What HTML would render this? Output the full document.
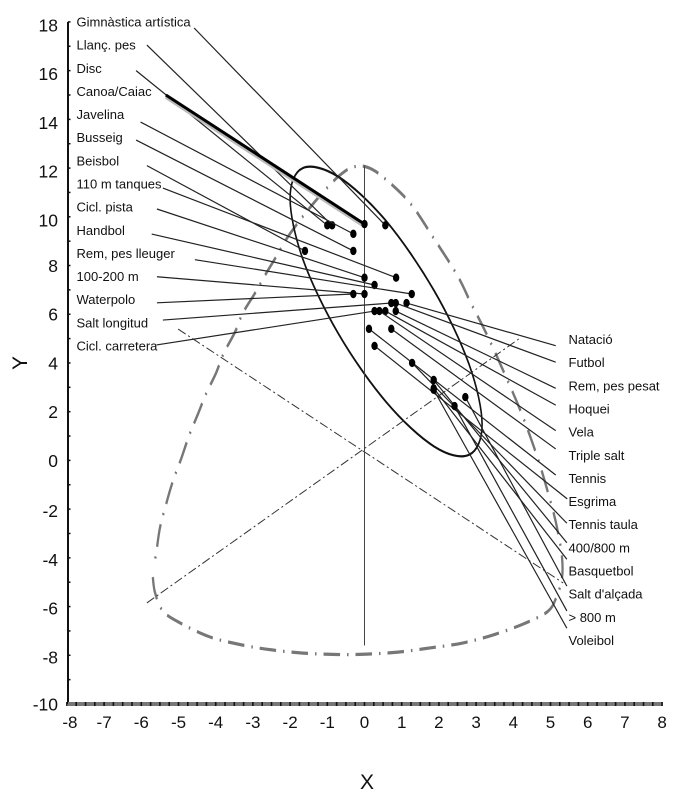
<!DOCTYPE html>
<html lang="ca">
<head>
<meta charset="utf-8">
<title>Biplot</title>
<style>
html,body{margin:0;padding:0;background:#fff;}
svg{display:block;font-family:"Liberation Sans",sans-serif;}
</style>
</head>
<body>
<svg id="chart" xmlns="http://www.w3.org/2000/svg" width="700" height="806" viewBox="0 0 700 806">
<text x="367" y="789" font-size="21" text-anchor="middle" fill="#111">X</text>
<text x="0" y="0" font-size="21" text-anchor="middle" fill="#111" transform="translate(27,363) rotate(-90)">Y</text>
</svg>
<script>
var xTickLabels = [-8,-7,-6,-5,-4,-3,-2,-1,0,1,2,3,4,5,6,7,8];
var yTickLabels = [18,16,14,12,10,8,6,4,2,0,-2,-4,-6,-8,-10];

var leftSports = ["Gimnàstica artística","Llanç. pes","Disc","Canoa/Caiac","Javelina","Busseig","Beisbol","110 m tanques","Cicl. pista","Handbol","Rem, pes lleuger","100-200 m","Waterpolo","Salt longitud","Cicl. carretera"];
var leftX = [0.56,-0.87,-1.0,0,-0.3,-0.3,-1.6,0.85,0,0.27,1.27,0,-0.3,0.72,0.27];
var leftY = [9.65,9.65,9.65,9.7,9.3,8.6,8.6,7.5,7.5,7.2,6.83,6.83,6.83,6.46,6.13];
var leftLeaderX = [-4.58,-5.85,-6.14,-5.34,-6.02,-6.14,-5.85,-5.42,-5.58,-5.72,-4.56,-5.58,-5.58,-5.42,-5.59];
var leftLeaderY = [17.75,17.05,16.0,15.0,13.89,13.15,12.1,11.18,10.32,9.29,8.24,7.54,6.47,5.76,4.74];

var rightSports = ["Natació","Futbol","Rem, pes pesat","Hoquei","Vela","Triple salt","Tennis","Esgrima","Tennis taula","400/800 m","Basquetbol","Salt d'alçada","> 800 m","Voleibol"];
var rightX = [1.13,0.84,0.84,0.56,0.4,0.72,0.12,0.27,1.28,1.86,1.86,2.71,2.42,1.86];
var rightY = [6.46,6.46,6.13,6.13,6.13,5.4,5.4,4.7,4.0,3.3,2.96,2.6,2.23,2.9];
var rightLeaderX = [5.14,5.14,5.14,5.14,5.14,5.14,5.14,5.45,5.44,5.44,5.44,5.44,5.44,5.44];
var rightLeaderY = [4.71,4.03,2.96,2.27,1.22,0.47,-0.6,-1.58,-2.58,-3.38,-4.06,-5.16,-6.18,-6.89];

var innerEllipseX = [3.16,2.81,1.87,0.58,-0.71,-1.66,-2.0,-1.66,-0.71,0.58,1.87,2.81];
var innerEllipseY = [1.47,0.23,0.57,2.40,5.22,8.28,10.76,12.0,11.65,9.83,6.97,3.95];

var outerBoundX = [-5.69,-5.63,-5.42,-4.96,-4.15,-3.29,-2.49,-1.65,-0.74,0.07,0.9,1.76,2.62,3.45,4.26,4.91,5.15,5.31,5.31,5.2,5.04,4.69,4.26,3.78,3.27,2.86,2.49,1.84,1.22,0.5,0.07,-0.31,-0.66,-1.06,-1.41,-1.79,-2.08,-2.38,-2.67,-2.94,-3.27,-3.48,-3.78,-3.99,-4.26,-4.5,-4.72,-4.93,-5.15,-5.34,-5.5,-5.6,-5.66];
var outerBoundY = [-4.79,-5.44,-6.18,-6.67,-7.25,-7.58,-7.78,-7.91,-7.97,-7.95,-7.87,-7.70,-7.50,-7.17,-6.72,-6.22,-5.65,-4.83,-3.97,-2.94,-1.91,-0.07,1.78,3.51,5.23,6.46,7.61,9.17,10.57,11.63,12.04,12.04,11.71,11.1,10.48,9.75,9.13,8.35,7.61,6.87,6.05,5.27,4.41,3.59,2.73,1.82,1.0,0.06,-0.85,-1.83,-2.78,-3.8,-4.29];

var axisOneX = [-5.01,5.34];
var axisOneY = [5.39,-5.03];
var axisTwoX = [-5.85,4.18];
var axisTwoY = [-5.85,5.02];
var zeroLineY = [12.1,-7.6];

var NS = "http://www.w3.org/2000/svg";
var svg = document.getElementById("chart");
var stretch = 1.4;
function sx(v){ return 364.5 + v * 37.2; }
function sy(v){ return 460.4 - v * 24.36; }
function mk(tag, attrs, parent){
  var e = document.createElementNS(NS, tag);
  for (var k in attrs) e.setAttribute(k, attrs[k]);
  (parent || svg).appendChild(e);
  return e;
}
function smoothPath(xs, ys, closed){
  var pts = xs.map(function(v,i){ return [sx(v), sy(ys[i]) / stretch]; });
  var n = pts.length;
  function at(i){ return closed ? pts[(i+n)%n] : pts[Math.min(Math.max(i,0),n-1)]; }
  var d = "M" + pts[0][0].toFixed(1) + " " + pts[0][1].toFixed(1);
  var last = closed ? n : n - 1;
  for (var i = 0; i < last; i++){
    var p0 = at(i-1), p1 = at(i), p2 = at(i+1), p3 = at(i+2);
    d += "C" + (p1[0]+(p2[0]-p0[0])/6).toFixed(1) + " " + (p1[1]+(p2[1]-p0[1])/6).toFixed(1) + " " +
         (p2[0]-(p3[0]-p1[0])/6).toFixed(1) + " " + (p2[1]-(p3[1]-p1[1])/6).toFixed(1) + " " +
         p2[0].toFixed(1) + " " + p2[1].toFixed(1);
  }
  return d + (closed ? "Z" : "");
}
var curves = mk("g", {transform:"scale(1," + stretch + ")"});



// outer dash-dot boundary
var outer = mk("path", {d: smoothPath(outerBoundX, outerBoundY, false), fill:"none", stroke:"#777", "stroke-width":"2.3", "stroke-dasharray":"16.5 7 1.5 7"}, curves);



// thin principal axes
var a1 = mk("line", {x1:sx(axisOneX[0]), y1:sy(axisOneY[0]), x2:sx(axisOneX[1]), y2:sy(axisOneY[1]), stroke:"#333", "stroke-width":"1", "stroke-dasharray":"9 3 2 3"});


var a2 = mk("line", {x1:sx(axisTwoX[0]), y1:sy(axisTwoY[0]), x2:sx(axisTwoX[1]), y2:sy(axisTwoY[1]), stroke:"#333", "stroke-width":"1", "stroke-dasharray":"9 3 2 3"});



// zero reference line
var zl = mk("line", {x1:sx(0), y1:sy(zeroLineY[0]), x2:sx(0), y2:sy(zeroLineY[1]), stroke:"#444", "stroke-width":"1"});



// inner ellipse
var inner = mk("path", {d: smoothPath(innerEllipseX, innerEllipseY, true), fill:"none", stroke:"#111", "stroke-width":"1.6"}, curves);



// leaders, dots, labels
function drawSports(names, xs, ys, lx, ly, textX, firstY, stepY, side){
  names.forEach(function(name, i){
    var thick = name === "Canoa/Caiac";
    if (thick){
      var shade = mk("line", {x1:sx(lx[i]), y1:sy(ly[i]) + 2, x2:sx(xs[i]), y2:sy(ys[i]) + 2, stroke:"#bbb", "stroke-width":"4"});
      
      
    }
    var leader = mk("line", {x1:sx(lx[i]), y1:sy(ly[i]), x2:sx(xs[i]), y2:sy(ys[i]), stroke: thick ? "#000" : "#222", "stroke-width": thick ? "3" : "1.2"});
    
    
    var dot = mk("ellipse", {cx:sx(xs[i]), cy:sy(ys[i]), rx:"3.2", ry:"4.2", fill:"#000"});
    
    
    var t = mk("text", {x:textX, y:firstY + stepY * i, "font-size":"13", fill:"#111"});
    
    
    t.textContent = name;
  });
}
drawSports(leftSports, leftX, leftY, leftLeaderX, leftLeaderY, 76.5, 26.5, 23.14, 'left');
drawSports(rightSports, rightX, rightY, rightLeaderX, rightLeaderY, 568.5, 344, 23.15, 'right');

// y axis
var yAxis = mk("line", {x1:68, y1:sy(18), x2:68, y2:sy(-10), stroke:"#111", "stroke-width":"2"});


for (var v = -10; v <= 18; v++){
  var yt = mk("line", {x1:68, y1:sy(v), x2:70.5, y2:sy(v), stroke:"#111", "stroke-width":"1.5"});
  
  
}
yTickLabels.forEach(function(v){
  var t = mk("text", {x:58, y:sy(v) + 6.5 + (v > 8 ? 3 : (v < 0 && v > -10 ? 1.5 : 0)), "font-size":"17.5", "text-anchor":"end", fill:"#111"});
  
  
  t.textContent = v;
});

// x axis
var xAxis = mk("line", {x1:68, y1:704, x2:sx(8), y2:704, stroke:"#777", "stroke-width":"4"});


for (var q = -32; q <= 32; q++){
  var xt = mk("line", {x1:sx(q/4), y1:702, x2:sx(q/4), y2:706, stroke:"#111", "stroke-width":"1.6"});
  
  
}
xTickLabels.forEach(function(v){
  var t = mk("text", {x:sx(v) + (v === -8 ? 3 : 0), y:728, "font-size":"17", "text-anchor":"middle", fill:"#111"});
  
  
  t.textContent = v;
});
</script>
</body>
</html>
